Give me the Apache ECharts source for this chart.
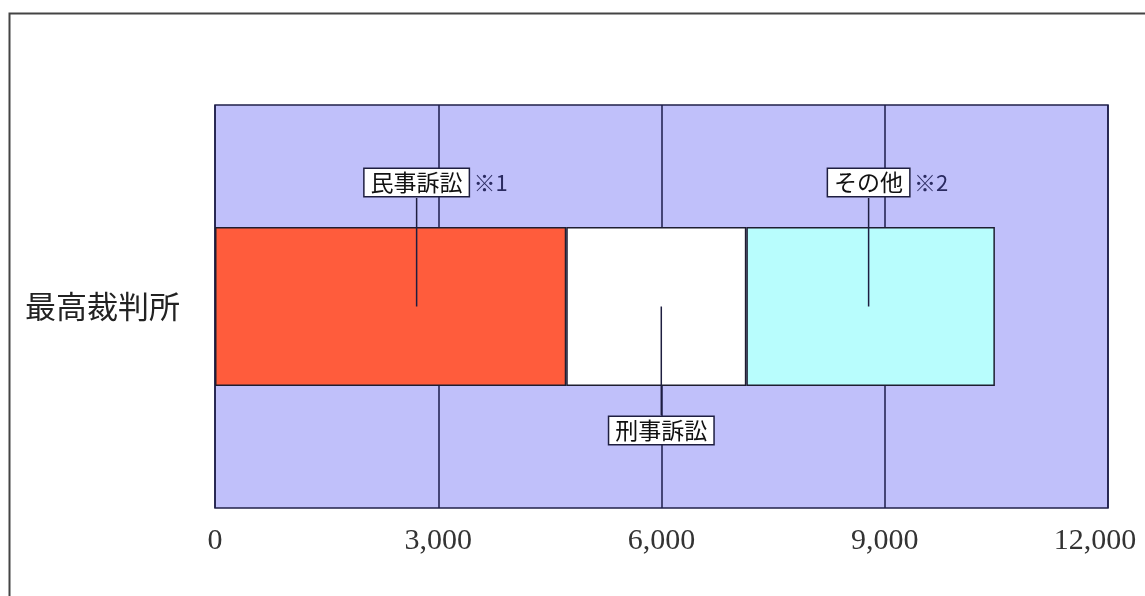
<!DOCTYPE html>
<html><head><meta charset="utf-8">
<script src="https://cdn.jsdelivr.net/npm/echarts@6/dist/echarts.min.js"></script>
<style>html,body{margin:0;padding:0;background:#fff}#c{width:1145px;height:596px}</style>
</head><body><div id="c"></div>
<script>
const categories = ['最高裁判所'];
const seriesNames = ['民事訴訟', '刑事訴訟', 'その他'];
const seriesValues = [4720, 2420, 3340];
const notes = ['※1', '', '※2'];
const xTicks = [0, 3000, 6000, 9000, 12000];

const colors = ['#ff5c3c', '#ffffff', '#b8fdfd'];
const chart = echarts.init(document.getElementById('c'));
const jp = '"Noto Sans CJK JP", sans-serif';
const xMax = xTicks[xTicks.length - 1];

chart.setOption({
  animation: false,
  grid: { left: 215, right: 37, top: 105, bottom: 88, show: true,
    outerBoundsMode: 'none', containLabel: false,
    backgroundColor: '#c0c0fa', borderColor: '#20204a', borderWidth: 1.5 },
  xAxis: { type: 'value', min: xTicks[0], max: xMax, interval: 3000,
    axisLine: { show: false }, axisTick: { show: false },
    splitLine: { show: true, lineStyle: { color: '#1c1c4a', width: 1.5 } },
    axisLabel: { margin: 18, fontFamily: '"Liberation Serif", serif', fontSize: 30, color: '#333',
      formatter: v => v === xMax ? '{m|' + v.toLocaleString('en-US') + '}' : v.toLocaleString('en-US'),
      rich: { m: { fontFamily: '"Liberation Serif", serif', fontSize: 30, color: '#333', padding: [0, 26, 0, 0] } } } },
  yAxis: { type: 'category', data: categories,
    axisLine: { show: false }, axisTick: { show: false },
    axisLabel: { margin: 35, fontFamily: jp, fontSize: 31, color: '#222' } },
  series: seriesNames.map((n, i) => ({
    name: n, type: 'bar', stack: 'a', barWidth: 159,
    data: [seriesValues[i]],
    itemStyle: { color: colors[i], borderColor: '#1e1e30', borderWidth: 1.5 }
  }))
});

// callout annotations
const layout = [
  { dx: 26, above: true },
  { dx: 5, above: false },
  { dx: -2, above: true }
];
const elems = [];
let cum = 0;
seriesValues.forEach((v, i) => {
  const mid = cum + v / 2; cum += v;
  const p = chart.convertToPixel({ gridIndex: 0 }, [mid, categories[0]]);
  const x = p[0] + layout[i].dx, yc = p[1];
  const boxTop = layout[i].above ? 167 : 415, boxH = 31;
  const lineEnd = layout[i].above ? boxTop + boxH : boxTop;
  elems.push({ type: 'line', z: 100, shape: { x1: x, y1: yc, x2: x, y2: lineEnd },
    style: { stroke: '#1e1e40', lineWidth: 1.5 } });
  const w = seriesNames[i].length * 23 + 12;
  elems.push({ type: 'text', z: 101, x: x, y: boxTop + boxH / 2,
    style: { text: seriesNames[i], font: '23px ' + jp, fill: '#111',
      align: 'center', verticalAlign: 'middle',
      backgroundColor: '#ffffff', borderColor: '#1e1e40', borderWidth: 1.5,
      padding: [2, 6, 2, 6] } });
  if (notes[i]) {
    elems.push({ type: 'text', z: 101, x: x + w / 2 + 5, y: boxTop + boxH / 2,
      style: { text: notes[i], font: '22px ' + jp, fill: '#2a2a60',
        align: 'left', verticalAlign: 'middle' } });
  }
});
elems.push({ type: 'rect', z: 200, shape: { x: 9.5, y: 13.5, width: 1300, height: 800 },
  style: { fill: 'none', stroke: '#444', lineWidth: 2 } });
chart.setOption({ graphic: elems });
</script></body></html>
